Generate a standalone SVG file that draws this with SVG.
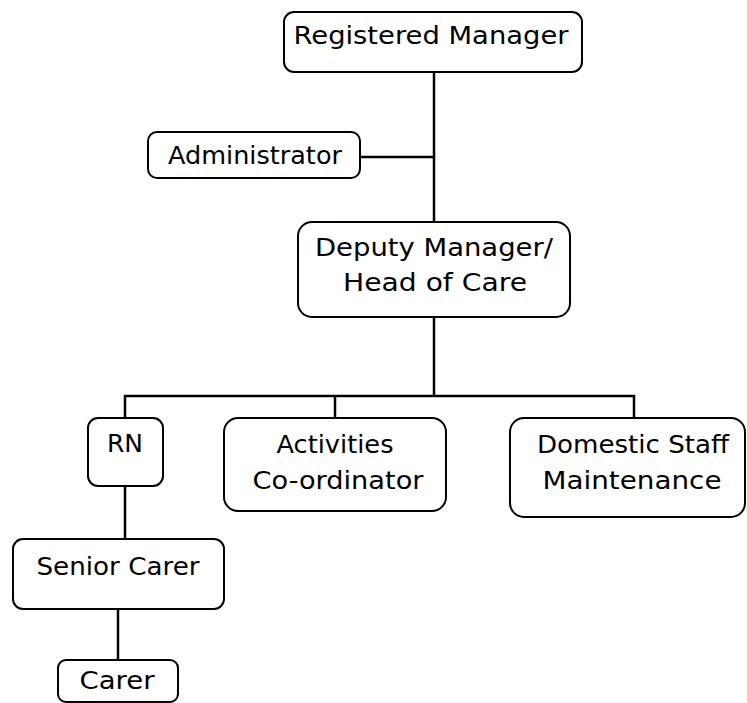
<svg xmlns="http://www.w3.org/2000/svg" width="747" height="703" viewBox="0 0 747 703">
<style>
.box{fill:#fff;stroke:#000;stroke-width:2}
.t{font-family:"DejaVu Sans","Liberation Sans",sans-serif;font-size:25px;fill:#000;text-anchor:middle}
.c{fill:none;stroke:#000;stroke-width:2.5}
</style>
<rect width="747" height="703" fill="#fff"/>
<g id="connectors">
<path class="c" d="M434 72V222"/>
<path class="c" d="M360 157H434"/>
<path class="c" d="M434 317V396"/>
<path class="c" d="M125 418V396H634V418"/>
<path class="c" d="M335 396V418"/>
<path class="c" d="M125 486V539"/>
<path class="c" d="M118 609V660"/>
</g>
<g id="registered-manager">
<rect class="box" x="284" y="12" width="298" height="60" rx="10"/>
<text class="t" x="431" y="44" textLength="275" lengthAdjust="spacingAndGlyphs">Registered Manager</text>
</g>
<g id="administrator">
<rect class="box" x="148" y="132" width="212" height="46" rx="9"/>
<text class="t" x="255" y="164" textLength="174" lengthAdjust="spacingAndGlyphs">Administrator</text>
</g>
<g id="deputy-manager">
<rect class="box" x="298" y="222" width="272" height="95" rx="14"/>
<text class="t" x="434" y="256" textLength="238" lengthAdjust="spacingAndGlyphs">Deputy Manager/</text>
<text class="t" x="435" y="291" textLength="184" lengthAdjust="spacingAndGlyphs">Head of Care</text>
</g>
<g id="rn">
<rect class="box" x="88" y="418" width="75" height="68" rx="10"/>
<text class="t" x="125" y="452" textLength="36" lengthAdjust="spacingAndGlyphs">RN</text>
</g>
<g id="activities">
<rect class="box" x="224" y="418" width="222" height="93" rx="14"/>
<text class="t" x="335" y="453" textLength="117" lengthAdjust="spacingAndGlyphs">Activities</text>
<text class="t" x="338" y="489" textLength="171" lengthAdjust="spacingAndGlyphs">Co-ordinator</text>
</g>
<g id="domestic">
<rect class="box" x="510" y="418" width="235" height="99" rx="14"/>
<text class="t" x="633" y="453" textLength="192" lengthAdjust="spacingAndGlyphs">Domestic Staff</text>
<text class="t" x="632" y="489" textLength="179" lengthAdjust="spacingAndGlyphs">Maintenance</text>
</g>
<g id="senior-carer">
<rect class="box" x="13" y="539" width="211" height="70" rx="10"/>
<text class="t" x="118" y="575" textLength="163" lengthAdjust="spacingAndGlyphs">Senior Carer</text>
</g>
<g id="carer">
<rect class="box" x="58" y="660" width="120" height="42" rx="8"/>
<text class="t" x="117" y="689" textLength="75" lengthAdjust="spacingAndGlyphs">Carer</text>
</g>
</svg>
